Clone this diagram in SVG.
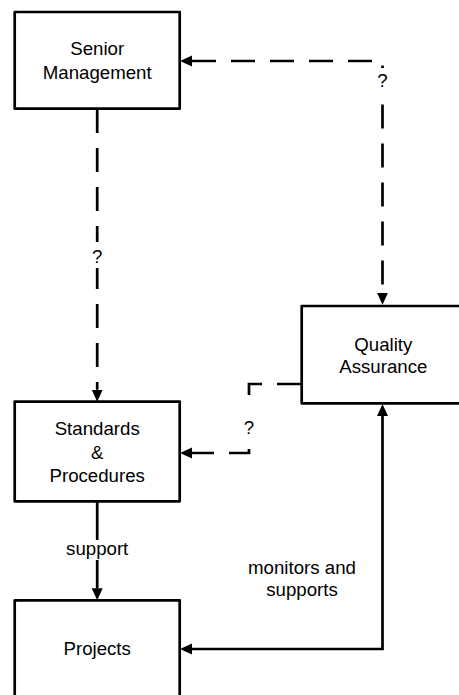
<svg xmlns="http://www.w3.org/2000/svg" width="459" height="695" viewBox="0 0 459 695">
  <style>
    .box { fill: #ffffff; stroke: #000000; stroke-width: 2.7; stroke-linejoin: round; }
    .lbl { font-family: "Liberation Sans", Arial, sans-serif; font-size: 18.67px; fill: #000000; text-anchor: middle; }
    .conn { fill: none; stroke: #000000; stroke-width: 2.7; }
    .dash { stroke-dasharray: 24 15; }
    .bg { fill: #ffffff; stroke: none; }
  </style>
  <defs>
    <marker id="arrow" markerUnits="userSpaceOnUse" markerWidth="13" markerHeight="12" refX="0" refY="6" orient="auto-start-reverse">
      <path d="M0,0.5 L12,6 L0,11.5 Z" fill="#000000"/>
    </marker>
  </defs>

  <g id="connectors">
    <!-- Senior Management down to Standards & Procedures -->
    <path class="conn dash" d="M97.2 109 V389.7" marker-end="url(#arrow)"/>
    <!-- Quality Assurance up to Senior Management -->
    <path class="conn dash" d="M192 61 H382.5 V292.7" marker-start="url(#arrow)" marker-end="url(#arrow)"/>
    <!-- Quality Assurance to Standards & Procedures -->
    <path class="conn dash" d="M301 384 H249 V453 H192" marker-end="url(#arrow)"/>
    <!-- Standards & Procedures to Projects -->
    <path class="conn" d="M97.2 501 V588.3" marker-end="url(#arrow)"/>
    <!-- Projects and Quality Assurance -->
    <path class="conn" d="M192 649 H382.5 V416" marker-start="url(#arrow)" marker-end="url(#arrow)"/>

    <!-- connector labels -->
    <rect class="bg" x="375" y="68" width="15" height="24"/>
    <text class="lbl" x="382.5" y="87">?</text>
    <rect class="bg" x="90" y="242" width="15" height="26"/>
    <text class="lbl" x="97.2" y="263">?</text>
    <rect class="bg" x="241" y="408" width="16" height="32"/>
    <text class="lbl" x="249" y="434">?</text>
    <rect class="bg" x="62" y="540" width="70" height="20"/>
    <text class="lbl" x="97.2" y="555">support</text>
    <text class="lbl" x="302" y="574">monitors and</text>
    <text class="lbl" x="302" y="596">supports</text>
  </g>

  <g id="senior-management">
    <rect class="box" x="14.7" y="12" width="165" height="96.7"/>
    <text class="lbl" x="97.2" y="55">Senior</text>
    <text class="lbl" x="97.2" y="78.5">Management</text>
  </g>

  <g id="quality-assurance">
    <rect class="box" x="301.7" y="306" width="170" height="97.3"/>
    <text class="lbl" x="383.3" y="350.5">Quality</text>
    <text class="lbl" x="383.3" y="373">Assurance</text>
  </g>

  <g id="standards-procedures">
    <rect class="box" x="14.7" y="401.7" width="165" height="99.6"/>
    <text class="lbl" x="97.2" y="435">Standards</text>
    <text class="lbl" x="97.2" y="458.5">&amp;</text>
    <text class="lbl" x="97.2" y="482">Procedures</text>
  </g>

  <g id="projects">
    <rect class="box" x="14.7" y="600.3" width="165" height="200"/>
    <text class="lbl" x="97.2" y="654.7">Projects</text>
  </g>
</svg>
